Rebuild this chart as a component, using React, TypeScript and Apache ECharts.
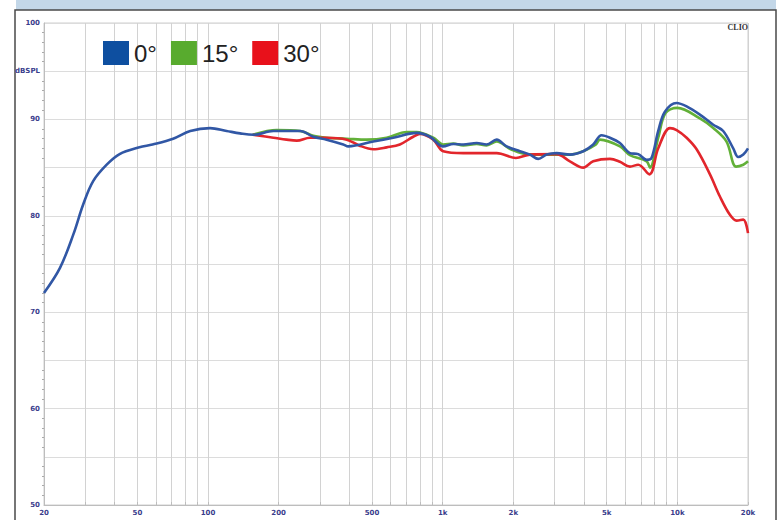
import React, { useEffect, useRef } from "react";
import * as echarts from "echarts";

// Frequencies (Hz) and levels (dB SPL)
const freq0 = [20, 23.4, 26.7, 29.4, 32.4, 37, 42, 51, 58, 71, 84, 102, 120, 137, 156, 190, 247, 281, 320, 377, 396, 506, 615, 774, 882, 1005, 1110, 1224, 1396, 1538, 1698, 1873, 2134, 2354, 2554, 2772, 3058, 3484, 3972, 4380, 4754, 5160, 5692, 6280, 6810, 7400, 7760, 8290, 8850, 9930, 10950, 12470, 14220, 15680, 17300, 18160, 19100, 20000];
const level0 = [72.0, 74.6, 78.1, 81.2, 83.6, 85.3, 86.4, 87.1, 87.4, 88.0, 88.8, 89.1, 88.8, 88.55, 88.4, 88.8, 88.8, 88.2, 87.9, 87.4, 87.2, 87.7, 88.1, 88.6, 88.2, 87.2, 87.45, 87.4, 87.55, 87.4, 87.9, 87.2, 86.7, 86.35, 85.9, 86.35, 86.5, 86.35, 86.7, 87.4, 88.35, 88.1, 87.55, 86.5, 86.4, 85.8, 86.0, 88.8, 90.8, 91.7, 91.35, 90.5, 89.45, 88.8, 87.0, 86.1, 86.35, 87.0];

const freq15 = [155, 196, 247, 281, 320, 390, 474, 577, 702, 774, 912, 1005, 1110, 1224, 1396, 1538, 1698, 1950, 2354, 2772, 3484, 3972, 4500, 4676, 5692, 6280, 7400, 7640, 8290, 8900, 10000, 12470, 14220, 16200, 17800, 19100, 20000];
const level15 = [88.4, 88.9, 88.8, 88.3, 88.1, 88.0, 87.9, 88.1, 88.7, 88.7, 88.1, 87.4, 87.5, 87.3, 87.45, 87.3, 87.7, 86.9, 86.35, 86.35, 86.35, 86.7, 87.4, 87.9, 87.2, 86.3, 85.65, 85.0, 88.1, 90.65, 91.2, 90.1, 89.1, 87.7, 85.1, 85.3, 85.65];

const freq30 = [155, 190, 216, 239, 272, 320, 390, 440, 506, 577, 657, 749, 800, 912, 1005, 1224, 1700, 2050, 2354, 3058, 3484, 3972, 4380, 5160, 5692, 6280, 6810, 7600, 8290, 9300, 9930, 10950, 12080, 13770, 15180, 16750, 17880, 19100, 20000];
const level30 = [88.4, 88.1, 87.9, 87.8, 88.1, 88.1, 87.9, 87.3, 86.9, 87.1, 87.4, 88.2, 88.5, 87.9, 86.7, 86.5, 86.5, 86.0, 86.35, 86.4, 85.65, 85.0, 85.65, 85.9, 85.6, 85.1, 85.3, 84.3, 87.0, 89.1, 88.9, 88.1, 86.9, 84.3, 82.0, 80.1, 79.5, 79.6, 78.2];

const seriesNames = ["0°", "15°", "30°"];
const gridFreqs = [20, 30, 40, 50, 60, 70, 80, 90, 100, 200, 300, 400, 500, 600, 700, 800, 900, 1000, 2000, 3000, 4000, 5000, 6000, 7000, 8000, 9000, 10000, 20000];
const labelFreqs = [20, 50, 100, 200, 500, 1000, 2000, 5000, 10000, 20000];
const yLabels = [50, 60, 70, 80, 90, 100];

const pairs = (f: number[], v: number[]) => f.map((x, i) => [x, v[i]]);

export default function App() {
  const ref = useRef<HTMLDivElement>(null);
  useEffect(() => {
    if (!ref.current) return;
    const chart = echarts.init(ref.current, null, { renderer: "svg" });
    const labelColor = "#3a3d8c";
    const lineCommon = {
      type: "line" as const,
      showSymbol: false,
      smooth: 0.35,
      silent: true,
    };
    chart.setOption({
      animation: false,
      backgroundColor: "#ffffff",
      graphic: [
        { type: "rect", shape: { x: 16, y: 0, width: 760, height: 10 }, style: { fill: "#c3d7e8" }, z: 0 },
        { type: "rect", shape: { x: 15, y: 10, width: 761, height: 520 }, style: { fill: "none", stroke: "#4a4a4a", lineWidth: 1.5 }, z: 0 },
        {
          type: "text",
          right: 34,
          top: 23,
          style: { text: "CLIO", font: "bold 8px 'Liberation Serif', serif", fill: "#333333" },
          z: 10,
        },
      ],
      grid: {
        left: 44,
        right: 34,
        top: 23,
        bottom: 15,
        show: true,
        borderColor: "#cfcfcf",
        borderWidth: 1,
      },
      legend: {
        data: seriesNames,
        left: 103,
        top: 41,
        padding: 0,
        icon: "rect",
        itemWidth: 26,
        itemHeight: 24,
        itemGap: 14,
        selectedMode: false,
        textStyle: {
          fontSize: 24,
          color: "#222222",
          fontFamily: "'Liberation Sans', Arial, sans-serif",
          padding: [10, 0, 0, 0],
        },
      },
      xAxis: {
        type: "log",
        logBase: 10,
        min: 20,
        max: 20000,
        axisLine: { show: true, lineStyle: { color: "#bdbdbd" } },
        axisTick: { show: true, inside: true, length: 3, lineStyle: { color: "#bdbdbd" }, customValues: gridFreqs },
        splitLine: { show: true, lineStyle: { color: "#d2d2d2", width: 1 } },
        axisLabel: {
          customValues: labelFreqs,
          fontSize: 7,
          fontWeight: "bold",
          color: labelColor,
          margin: 4,
          fontFamily: "'DejaVu Sans', sans-serif",
          formatter: (v: number) => {
            const r = Math.round(v);
            return r >= 1000 ? r / 1000 + "k" : String(r);
          },
        },
      },
      yAxis: {
        type: "value",
        min: 50,
        max: 100,
        interval: 5,
        axisLine: { show: true, lineStyle: { color: "#bdbdbd" } },
        axisTick: { show: false },
        minorTick: { show: true, splitNumber: 5, length: 2, lineStyle: { color: "#aaaaaa" } },
        splitLine: { show: true, lineStyle: { color: "#dcdcdc", width: 1 } },
        axisLabel: {
          fontSize: 7,
          fontWeight: "bold",
          color: labelColor,
          margin: 4,
          fontFamily: "'DejaVu Sans', sans-serif",
          formatter: (v: number) => (yLabels.indexOf(v) >= 0 ? String(v) : v === 95 ? "dBSPL" : ""),
        },
      },
      series: [
        { ...lineCommon, name: seriesNames[0], color: "#0e4fa0", lineStyle: { width: 2.6, color: "#3157a5" }, data: pairs(freq0, level0), z: 3 },
        { ...lineCommon, name: seriesNames[1], color: "#58ab2e", lineStyle: { width: 2.6, color: "#62b038" }, data: pairs(freq15, level15), z: 2 },
        { ...lineCommon, name: seriesNames[2], color: "#e8111b", lineStyle: { width: 2.6, color: "#e2262c" }, data: pairs(freq30, level30), z: 2 },
      ],
    });
    return () => chart.dispose();
  }, []);
  return (
    <div
      ref={ref}
      style={{ position: "fixed", left: 0, top: 0, width: 782, height: 520 }}
    />
  );
}
